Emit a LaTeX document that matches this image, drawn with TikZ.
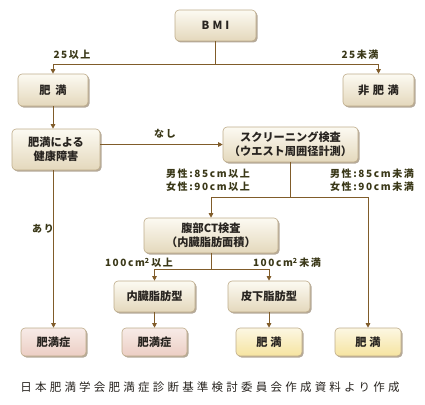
\documentclass[tikz,border=0pt]{standalone}
\usepackage{fontspec}
\setmainfont{Noto Sans CJK JP}
\newfontfamily\labfont[LetterSpace=16]{Noto Sans CJK JP}
\newfontfamily\footfont[LetterSpace=28]{Noto Sans CJK JP}
\usepackage{xcolor}
\definecolor{lineaMarron}{RGB}{128,92,42}
\definecolor{bordeCaja}{RGB}{190,172,138}
\definecolor{cremaTop}{RGB}{252,250,242}
\definecolor{cremaBot}{RGB}{228,216,188}
\definecolor{rosaBot}{RGB}{236,206,196}
\definecolor{amarBot}{RGB}{246,228,160}
\definecolor{textoCaja}{RGB}{40,36,32}
\definecolor{textoEtiq}{RGB}{58,56,24}
\usepackage{tikz}
\usetikzlibrary{arrows.meta, shadows}

\begin{document}
\begin{tikzpicture}[
  x=1pt, y=-1pt,
  box/.style={rectangle, rounded corners=4pt, draw=bordeCaja, line width=0.6pt,
              top color=cremaTop, bottom color=cremaBot, inner sep=0pt,
              align=center, text=textoCaja,
              font=\fontsize{11.2}{14}\selectfont\bfseries,
              drop shadow={shadow xshift=1.5pt, shadow yshift=-1.5pt,
                           opacity=0.45, fill=lineaMarron!70!black}},
  rosa/.style={box, top color=white!60!rosaBot, bottom color=rosaBot},
  amar/.style={box, top color=white!70!amarBot, bottom color=amarBot},
  etiq/.style={text=textoEtiq, font=\labfont\fontsize{10}{12.5}\selectfont\bfseries,
               align=left, inner sep=0pt},
  linea/.style={draw=lineaMarron, line width=1pt},
  arrow/.style={linea, -{Triangle[length=4.5pt, width=4.5pt]}}
]
\useasboundingbox (0,0) rectangle (425,404);

% Cajas superiores
\node[box, minimum width=81pt, minimum height=31pt] (bmi) at (215.5,25.5) {B\hspace{3pt}M\hspace{3pt}I};
\node[box, minimum width=70pt, minimum height=32pt] (himan1) at (53,90) {肥\hspace{5pt}満};
\node[box, minimum width=71pt, minimum height=32pt] (hihiman) at (378.5,90) {非\hspace{3.5pt}肥\hspace{3.5pt}満};

% Cajas intermedias
\node[box, minimum width=88pt, minimum height=41pt] (kenko) at (56,149.5) {肥満による\\健康障害};
\node[box, minimum width=135pt, minimum height=35pt] (screen) at (290.5,144.5) {スクリーニング検査\\（ウエスト周囲径計測）};
\node[box, minimum width=134pt, minimum height=35pt] (ct) at (211,235.5) {腹部CT検査\\（内臓脂肪面積）};
\node[box, minimum width=81pt, minimum height=31pt] (naizo) at (154.5,296.5) {内臓脂肪型};
\node[box, minimum width=82pt, minimum height=31pt] (hika) at (269,296.5) {皮下脂肪型};

% Cajas finales
\node[rosa, minimum width=65pt, minimum height=28pt] (sho1) at (53.5,342) {肥満症};
\node[rosa, minimum width=65pt, minimum height=28pt] (sho2) at (154.5,342) {肥満症};
\node[amar, minimum width=66pt, minimum height=28pt] (himan2) at (269,342) {肥\hspace{3pt}満};
\node[amar, minimum width=66pt, minimum height=28pt] (himan3) at (368,342) {肥\hspace{3pt}満};

% Nudos de ramificacion
\coordinate (j1) at (215.5,64);
\coordinate (j2) at (290,197);
\coordinate (j3) at (211,269);

% Flechas BMI
\draw[linea] (bmi) -- (j1);
\draw[arrow] (j1) -| (himan1);
\draw[arrow] (j1) -| (hihiman);

% Flechas salud
\draw[arrow] (himan1.south) -- (himan1.south |- kenko.north);
\draw[arrow] (kenko.east |- screen.west) -- (screen.west);
\draw[arrow] (sho1 |- kenko.south) -- (sho1);

% Flechas cintura
\draw[linea] (screen.south -| j2) -- (j2);
\draw[arrow] (j2) -| (ct);
\draw[arrow] (j2) -| (himan3);

% Flechas CT
\draw[linea] (ct) -- (j3);
\draw[arrow] (j3) -| (naizo);
\draw[arrow] (j3) -| (hika);
\draw[arrow] (naizo) -- (sho2);
\draw[arrow] (hika) -- (himan2);

% Etiquetas
\node[etiq] (l1) at (72,55) {25以上};
\node[etiq] (l2) at (360,55) {25未満};
\node[etiq] (l3) at (165,134) {なし};
\node[etiq] (l4) at (208,180) {男性:85cm以上\\女性:90cm以上};
\node[etiq] (l5) at (372,180) {男性:85cm未満\\女性:90cm未満};
\node[etiq] (l6) at (43,229) {あり};
\node[etiq] (l7) at (139,263) {100cm\textsuperscript{2}\,以上};
\node[etiq] (l8) at (287,263) {100cm\textsuperscript{2}\,未満};

% Fuente
\node[text=textoCaja, font=\footfont\fontsize{11.5}{14}\selectfont] (fuente) at (210,387)
  {日本肥満学会肥満症診断基準検討委員会作成資料より作成};

\end{tikzpicture}
\end{document}
